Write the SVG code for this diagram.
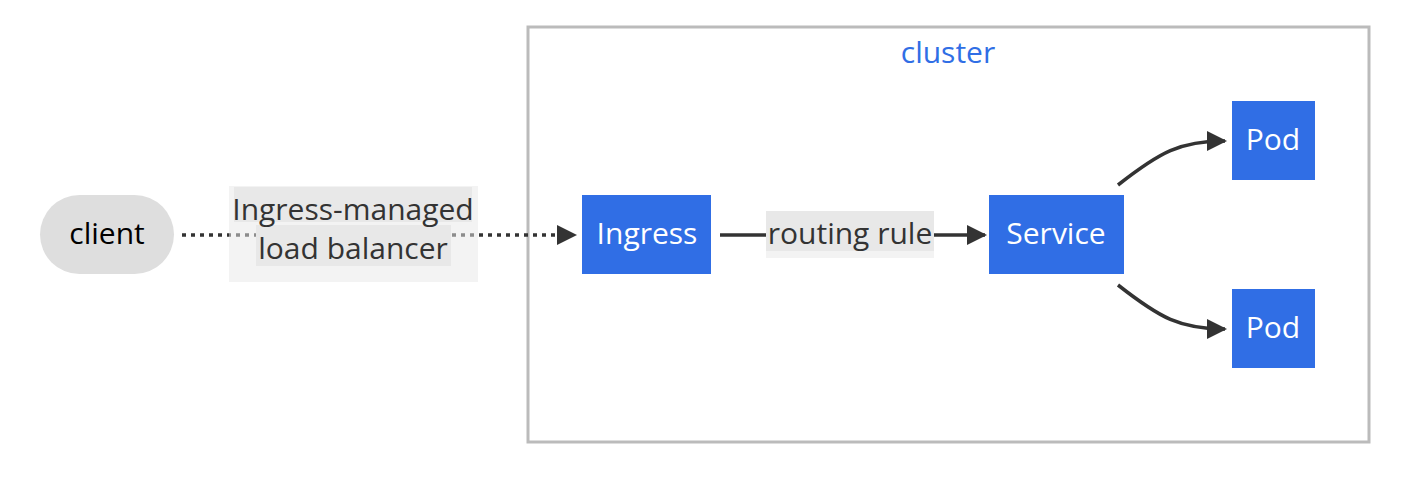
<svg xmlns="http://www.w3.org/2000/svg" width="1410" height="492" viewBox="0 0 1410 492">
<defs>
<style>
.lbl{font-family:"Open Sans","DejaVu Sans",sans-serif;font-size:30px;text-anchor:middle;dominant-baseline:central}
.node{fill:#306ee5}
.ntext{fill:#ffffff}
.edge{fill:none;stroke:#333333;stroke-width:3.5}
.etext{fill:#333333}
</style>
<marker id="arrowL" viewBox="0 0 10 10" refX="9" refY="5" markerWidth="20" markerHeight="20" markerUnits="userSpaceOnUse" orient="auto">
<path d="M0,0 L10,5 L0,10 z" fill="#333333"/>
</marker>
</defs>
<rect width="1410" height="492" fill="#ffffff"/>
<g id="cluster">
<rect x="528" y="27" width="841" height="415" fill="#ffffff" stroke="#bbbbbb" stroke-width="3"/>
<text class="lbl" x="948" y="51" fill="#306ee5">cluster</text>
</g>
<g id="connectors">
<path class="edge" d="M182,235 L575,235" stroke-dasharray="4,5" marker-end="url(#arrowL)"/>
<path class="edge" d="M720,235 L985,235" marker-end="url(#arrowL)"/>
<path class="edge" d="M1118,185 C1160,152 1180,141 1225,141" marker-end="url(#arrowL)"/>
<path class="edge" d="M1118,285 C1160,318 1180,329 1225,329" marker-end="url(#arrowL)"/>
</g>
<g id="edge-label-lb">
<rect x="229" y="186" width="249" height="96" fill="#e8e8e8" fill-opacity="0.5"/>
<rect x="234" y="187" width="238" height="35" fill="#e8e8e8"/>
<rect x="256" y="225" width="195" height="41" fill="#e8e8e8"/>
<text class="lbl etext" x="353" y="208">Ingress-managed</text>
<text class="lbl etext" x="353" y="247">load balancer</text>
</g>
<g id="edge-label-rr">
<rect x="766" y="211" width="168" height="47" fill="#f3f3f3"/>
<rect x="766" y="211" width="168" height="40" fill="#e8e8e8"/>
<text class="lbl etext" x="850" y="232">routing rule</text>
</g>
<g id="client">
<rect x="40" y="195" width="134" height="79" rx="39.5" ry="39.5" fill="#dedede"/>
<text class="lbl" x="107" y="232" fill="#000000">client</text>
</g>
<g id="ingress">
<rect class="node" x="582" y="195" width="129" height="79"/>
<text class="lbl ntext" x="647" y="232">Ingress</text>
</g>
<g id="service">
<rect class="node" x="989" y="195" width="135" height="79"/>
<text class="lbl ntext" x="1056" y="232">Service</text>
</g>
<g id="pod1">
<rect class="node" x="1232" y="101" width="83" height="79"/>
<text class="lbl ntext" x="1273" y="138">Pod</text>
</g>
<g id="pod2">
<rect class="node" x="1232" y="289" width="83" height="79"/>
<text class="lbl ntext" x="1273" y="326">Pod</text>
</g>
</svg>
